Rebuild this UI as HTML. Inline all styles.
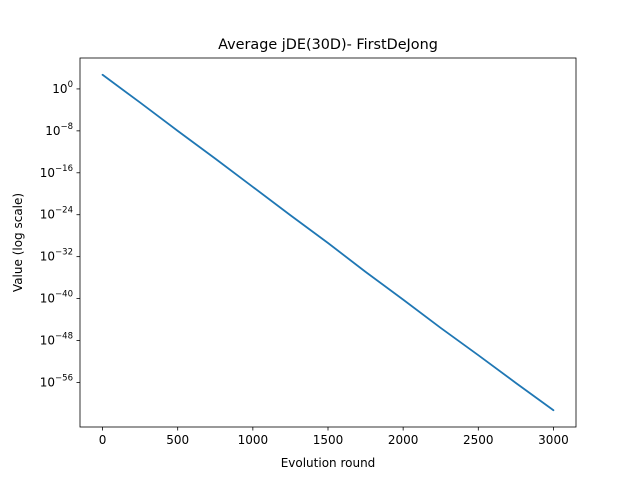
<!DOCTYPE html>
<html><head><meta charset="utf-8"><style>
html,body{margin:0;padding:0;background:#fff;}
svg text{font-family:"DejaVu Sans","Liberation Sans",sans-serif;fill:#000;}
</style></head><body>
<svg id="chart" width="640" height="480" xmlns="http://www.w3.org/2000/svg">
<rect width="640" height="480" fill="#fff"/>
<text x="328" y="49" font-size="14.4" text-anchor="middle">Average jDE(30D)- FirstDeJong</text>
<g id="plot"></g>
<rect x="80" y="58" width="496" height="369" fill="none" stroke="#000" stroke-width="0.8"/>
<text x="328" y="467" font-size="12" text-anchor="middle">Evolution round</text>
<text transform="translate(22,242.5) rotate(-90)" font-size="12" text-anchor="middle">Value (log scale)</text>
</svg>
<script>
const rounds = [0,250,500,750,1000,1250,1500,1750,2000,2250,2500,2750,3000];
const logValues = [2.7,-2.6,-8.0,-13.3,-18.7,-24.1,-29.4,-34.9,-40.2,-45.6,-50.8,-56.1,-61.3];
const xTicks = [0,500,1000,1500,2000,2500,3000];
const yTickExps = [0,-8,-16,-24,-32,-40,-48,-56];
const NS="http://www.w3.org/2000/svg";
const L=80,R=576,T=58,B=427;
const xMin=-150,xMax=3150,yMax=5.9,yMin=-64.5;
const sx=v=>L+(v-xMin)/(xMax-xMin)*(R-L);
const sy=e=>T+(yMax-e)/(yMax-yMin)*(B-T);
const g=document.getElementById('plot');
function mk(t,a){const e=document.createElementNS(NS,t);for(const k in a)e.setAttribute(k,a[k]);g.appendChild(e);return e;}
xTicks.forEach(v=>{
  const t=mk('line',{x1:sx(v),x2:sx(v),y1:B,y2:B+3.5,stroke:'#000','stroke-width':0.8});
  
  
  const l=mk('text',{x:sx(v),y:B+17,'font-size':12,'text-anchor':'middle'});
  l.textContent=v;
  
  
});
yTickExps.forEach(e=>{
  const y=sy(e);
  const t=mk('line',{x1:L-3.5,x2:L,y1:y,y2:y,stroke:'#000','stroke-width':0.8});
  
  
  const l=mk('text',{x:L-7,y:y+4,'font-size':12,'text-anchor':'end'});
  const s=e===0?'0':'\u2212'+(-e);
  l.innerHTML='10<tspan dy="-6" font-size="8.5">'+s+'</tspan>';
  
  
});
const p=mk('polyline',{points:rounds.map((r,i)=>sx(r)+','+sy(logValues[i])).join(' '),fill:'none',stroke:'#1f77b4','stroke-width':1.8,'stroke-linejoin':'round','stroke-linecap':'round'});


</script>
</body></html>
